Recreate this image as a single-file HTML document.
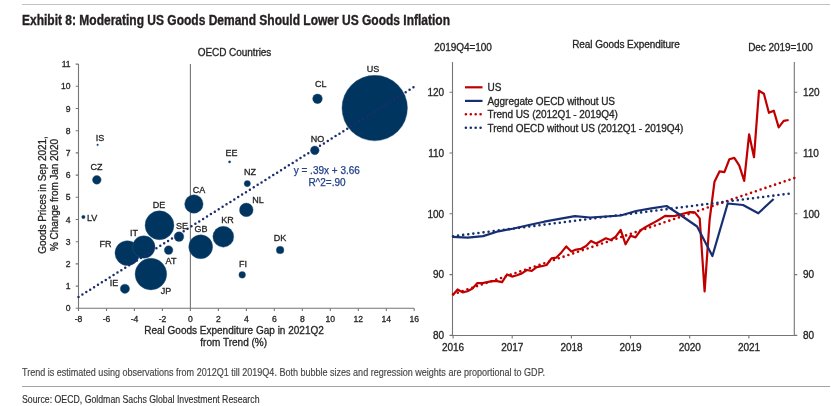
<!DOCTYPE html>
<html lang="en"><head><meta charset="utf-8"><title>Exhibit 8</title>
<style>html,body{margin:0;padding:0;background:#fff}body{width:831px;height:406px;overflow:hidden}</style></head>
<body>
<svg width="831" height="406" viewBox="0 0 831 406" style="display:block;font-family:'Liberation Sans', Arial, sans-serif">
<rect width="831" height="406" fill="#fff"/>
<line x1="22" y1="4.5" x2="830" y2="4.5" stroke="#c2c2c2" stroke-width="1.2"/>
<line x1="22" y1="386.5" x2="830" y2="386.5" stroke="#a4a4a4" stroke-width="1.2"/>
<text x="22" y="25" font-size="14" font-weight="bold" fill="#231f20" stroke="#231f20" stroke-width="0.35" textLength="428" lengthAdjust="spacingAndGlyphs">Exhibit 8: Moderating US Goods Demand Should Lower US Goods Inflation</text>
<text x="22" y="375.5" font-size="10.5" fill="#444" stroke="#444" stroke-width="0.15" textLength="523" lengthAdjust="spacingAndGlyphs">Trend is estimated using observations from 2012Q1 till 2019Q4. Both bubble sizes and regression weights are proportional to GDP.</text>
<text x="22" y="402.5" font-size="10.5" fill="#2e2e2e" stroke="#2e2e2e" stroke-width="0.15" textLength="237.5" lengthAdjust="spacingAndGlyphs">Source: OECD, Goldman Sachs Global Investment Research</text>
<g font-size="10" fill="#262626" stroke="#262626" stroke-width="0.3" letter-spacing="-0.06">
<text x="234.5" y="56" text-anchor="middle">OECD Countries</text>
<path d="M78.5 64.1V308.3H414.2" fill="none" stroke="#757575" stroke-width="1.1"/>
<line x1="190.4" y1="64.1" x2="190.4" y2="308.3" stroke="#757575" stroke-width="1.1"/>
<path d="M75.7 308.3h2.8M75.7 286.1h2.8M75.7 263.9h2.8M75.7 241.7h2.8M75.7 219.5h2.8M75.7 197.3h2.8M75.7 175.1h2.8M75.7 152.9h2.8M75.7 130.7h2.8M75.7 108.5h2.8M75.7 86.3h2.8M75.7 64.1h2.8M78.5 308.3v2.8M106.5 308.3v2.8M134.4 308.3v2.8M162.4 308.3v2.8M190.4 308.3v2.8M218.4 308.3v2.8M246.4 308.3v2.8M274.3 308.3v2.8M302.3 308.3v2.8M330.3 308.3v2.8M358.3 308.3v2.8M386.3 308.3v2.8M414.2 308.3v2.8" stroke="#757575" stroke-width="1.1" fill="none"/>
<text x="70.5" y="311.4" text-anchor="end" font-size="8.6">0</text>
<text x="70.5" y="289.2" text-anchor="end" font-size="8.6">1</text>
<text x="70.5" y="267.0" text-anchor="end" font-size="8.6">2</text>
<text x="70.5" y="244.8" text-anchor="end" font-size="8.6">3</text>
<text x="70.5" y="222.6" text-anchor="end" font-size="8.6">4</text>
<text x="70.5" y="200.4" text-anchor="end" font-size="8.6">5</text>
<text x="70.5" y="178.2" text-anchor="end" font-size="8.6">6</text>
<text x="70.5" y="156.0" text-anchor="end" font-size="8.6">7</text>
<text x="70.5" y="133.8" text-anchor="end" font-size="8.6">8</text>
<text x="70.5" y="111.6" text-anchor="end" font-size="8.6">9</text>
<text x="70.5" y="89.4" text-anchor="end" font-size="8.6">10</text>
<text x="70.5" y="67.2" text-anchor="end" font-size="8.6">11</text>
<text x="78.5" y="322" text-anchor="middle" font-size="8.6">-8</text>
<text x="106.5" y="322" text-anchor="middle" font-size="8.6">-6</text>
<text x="134.4" y="322" text-anchor="middle" font-size="8.6">-4</text>
<text x="162.4" y="322" text-anchor="middle" font-size="8.6">-2</text>
<text x="190.4" y="322" text-anchor="middle" font-size="8.6">0</text>
<text x="218.4" y="322" text-anchor="middle" font-size="8.6">2</text>
<text x="246.4" y="322" text-anchor="middle" font-size="8.6">4</text>
<text x="274.3" y="322" text-anchor="middle" font-size="8.6">6</text>
<text x="302.3" y="322" text-anchor="middle" font-size="8.6">8</text>
<text x="330.3" y="322" text-anchor="middle" font-size="8.6">10</text>
<text x="358.3" y="322" text-anchor="middle" font-size="8.6">12</text>
<text x="386.3" y="322" text-anchor="middle" font-size="8.6">14</text>
<text x="414.2" y="322" text-anchor="middle" font-size="8.6">16</text>
<text x="234" y="333.5" text-anchor="middle" letter-spacing="0">Real Goods Expenditure Gap in 2021Q2</text>
<text x="233.7" y="345.5" text-anchor="middle" letter-spacing="0">from Trend (%)</text>
<text transform="translate(46,195) rotate(-90)" text-anchor="middle">Goods Prices in Sep 2021,</text>
<text transform="translate(58,195) rotate(-90)" text-anchor="middle">% Change from Jan 2020</text>
</g>
<g fill="#00355f" stroke="#2f587d" stroke-width="0.4">
<circle cx="96.8" cy="179.8" r="4.35"/>
<circle cx="97.6" cy="144.8" r="0.85"/>
<circle cx="83.4" cy="217" r="1.75"/>
<circle cx="193.9" cy="204" r="9.25"/>
<circle cx="179" cy="236.7" r="4.85"/>
<circle cx="200.7" cy="246.8" r="11.95"/>
<circle cx="223.3" cy="236.7" r="10.45"/>
<circle cx="168.6" cy="250.1" r="4.35"/>
<circle cx="150.9" cy="274.1" r="15.85"/>
<circle cx="124.9" cy="288.8" r="4.65"/>
<circle cx="246.3" cy="209.9" r="6.85"/>
<circle cx="247.3" cy="183.6" r="3.15"/>
<circle cx="280.1" cy="250" r="3.85"/>
<circle cx="242.2" cy="274.8" r="3.35"/>
<circle cx="229.6" cy="161.9" r="1.15"/>
<circle cx="317.5" cy="98.8" r="4.85"/>
<circle cx="314.8" cy="150.3" r="4.35"/>
<circle cx="374.7" cy="108.1" r="32.75"/>
<circle cx="127.4" cy="253.1" r="12.45"/>
<circle cx="143.8" cy="247" r="11.25"/>
<circle cx="159.5" cy="225.3" r="14.45"/>
</g>
<line x1="78.5" y1="297" x2="413.5" y2="87.3" stroke="#1c2c6e" stroke-width="2.5" stroke-linecap="round" stroke-dasharray="0 4.595"/>
<g font-size="9" fill="#262626" stroke="#262626" stroke-width="0.3">
<text x="96.5" y="170.0" text-anchor="middle">CZ</text>
<text x="100" y="140.5" text-anchor="middle">IS</text>
<text x="87" y="220.5" text-anchor="start">LV</text>
<text x="159" y="207.5" text-anchor="middle">DE</text>
<text x="199" y="193.0" text-anchor="middle">CA</text>
<text x="182" y="228.6" text-anchor="middle">SE</text>
<text x="201" y="231.6" text-anchor="middle">GB</text>
<text x="227.4" y="223.4" text-anchor="middle">KR</text>
<text x="134" y="235.5" text-anchor="middle">IT</text>
<text x="105.5" y="246.5" text-anchor="middle">FR</text>
<text x="171" y="263.7" text-anchor="middle">AT</text>
<text x="166" y="293.5" text-anchor="middle">JP</text>
<text x="114" y="285.5" text-anchor="middle">IE</text>
<text x="258" y="202.5" text-anchor="middle">NL</text>
<text x="250" y="174.5" text-anchor="middle">NZ</text>
<text x="280" y="240.5" text-anchor="middle">DK</text>
<text x="243" y="267.0" text-anchor="middle">FI</text>
<text x="231.5" y="156.0" text-anchor="middle">EE</text>
<text x="320.7" y="86.5" text-anchor="middle">CL</text>
<text x="317.5" y="141.7" text-anchor="middle">NO</text>
<text x="373" y="71.5" text-anchor="middle">US</text>
</g>
<g font-size="10" fill="#24418a" stroke="#24418a" stroke-width="0.25" text-anchor="middle"><text x="326.8" y="174">y = .39x + 3.66</text><text x="327" y="186">R^2=.90</text></g>
<g font-size="10" fill="#262626" stroke="#262626" stroke-width="0.3" letter-spacing="-0.06">
<text x="434.2" y="50.5">2019Q4=100</text>
<text x="626" y="48" text-anchor="middle">Real Goods Expenditure</text>
<text x="812.8" y="50.5" text-anchor="end">Dec 2019=100</text>
<path d="M452.5 62.0V335.5H794.3V62.0" fill="none" stroke="#757575" stroke-width="1.1"/>
<path d="M449.5 335.4h3M794.3 335.4h3M449.5 274.6h3M794.3 274.6h3M449.5 213.8h3M794.3 213.8h3M449.5 153.0h3M794.3 153.0h3M449.5 92.2h3M794.3 92.2h3M453.1 335.5v3M512.2 335.5v3M571.4 335.5v3M630.5 335.5v3M689.7 335.5v3M748.9 335.5v3" stroke="#757575" stroke-width="1.1" fill="none"/>
<text x="443.9" y="339.2" text-anchor="end">80</text>
<text x="803.0" y="339.2">80</text>
<text x="443.9" y="278.4" text-anchor="end">90</text>
<text x="803.0" y="278.4">90</text>
<text x="443.9" y="217.6" text-anchor="end">100</text>
<text x="803.0" y="217.6">100</text>
<text x="443.9" y="156.8" text-anchor="end">110</text>
<text x="803.0" y="156.8">110</text>
<text x="443.9" y="96.0" text-anchor="end">120</text>
<text x="803.0" y="96.0">120</text>
<text x="453.1" y="351.2" text-anchor="middle">2016</text>
<text x="512.2" y="351.2" text-anchor="middle">2017</text>
<text x="571.4" y="351.2" text-anchor="middle">2018</text>
<text x="630.5" y="351.2" text-anchor="middle">2019</text>
<text x="689.7" y="351.2" text-anchor="middle">2020</text>
<text x="748.9" y="351.2" text-anchor="middle">2021</text>
<text x="487.5" y="91.3">US</text>
<text x="487.5" y="104.7">Aggregate OECD without US</text>
<text x="487.5" y="118.1">Trend US (2012Q1 - 2019Q4)</text>
<text x="487.5" y="131.5">Trend OECD without US (2012Q1 - 2019Q4)</text>
</g>
<line x1="465" y1="87.3" x2="482.5" y2="87.3" stroke="#c00000" stroke-width="2.2"/>
<line x1="465" y1="100.9" x2="482.5" y2="100.9" stroke="#162f72" stroke-width="2.2"/>
<line x1="465.9" y1="114.3" x2="481" y2="114.3" stroke="#c00000" stroke-width="2.6" stroke-linecap="round" stroke-dasharray="0 4.9"/>
<line x1="465.9" y1="127.7" x2="481" y2="127.7" stroke="#162f72" stroke-width="2.6" stroke-linecap="round" stroke-dasharray="0 4.9"/>
<polyline points="452.7,295.2 457.6,289.5 462.6,292.4 467.5,291.2 472.5,288.6 477.4,283.1 482.3,283.1 487.3,282.2 492.2,281.2 497.2,281.2 502.1,282.2 507.0,274.5 512.0,276.6 516.9,275.2 521.9,273.4 526.8,270 531.7,270.9 536.7,267.1 541.6,266.2 546.6,265 551.5,258.4 556.4,257.6 561.4,252.4 566.3,246.4 571.3,251.6 576.2,249.6 581.1,248.8 586.1,246 591.0,240.9 596.0,243.4 600.9,240.9 605.8,238.3 610.8,240 615.7,236.6 620.7,230 625.6,244.3 630.5,235.7 635.5,237.4 640.4,230.5 645.4,227.1 650.3,224.5 655.2,221.9 660.2,219 665.1,215.9 670.1,216.2 675.0,215.9 679.9,214.5 684.9,213.3 689.8,212.1 694.8,212.4 699.7,218.4 704.6,291.4 709.6,220 714.5,181.7 719.5,171.4 724.4,172.2 729.3,159.3 734.3,157.9 739.2,165.3 744.2,180.9 749.1,134.3 754.0,157.2 759.0,90.7 763.9,93.8 768.9,112.8 773.8,110.7 778.7,127.4 783.7,120.9 788.6,120" fill="none" stroke="#c00000" stroke-width="2.2" stroke-linejoin="round"/>
<polyline points="452.5,236.9 467.8,237.6 483.1,236.1 498.4,231.3 513.7,228.5 529.0,225 544.2,221.7 559.5,218.8 574.8,216.1 590.1,217.5 605.4,216.5 620.7,215.5 636.0,211 651.3,208.3 666.6,206 681.9,216 697.1,226.5 712.4,256 727.7,203.5 743.0,205 758.3,213.3 773.6,199" fill="none" stroke="#162f72" stroke-width="2.2" stroke-linejoin="round"/>
<line x1="453" y1="294.3" x2="794.3" y2="178.1" stroke="#c00000" stroke-width="2.6" stroke-linecap="round" stroke-dasharray="0 5.078"/>
<line x1="453" y1="236.2" x2="788.7" y2="193.7" stroke="#162f72" stroke-width="2.6" stroke-linecap="round" stroke-dasharray="0 5.1255"/>
</svg>
</body></html>
